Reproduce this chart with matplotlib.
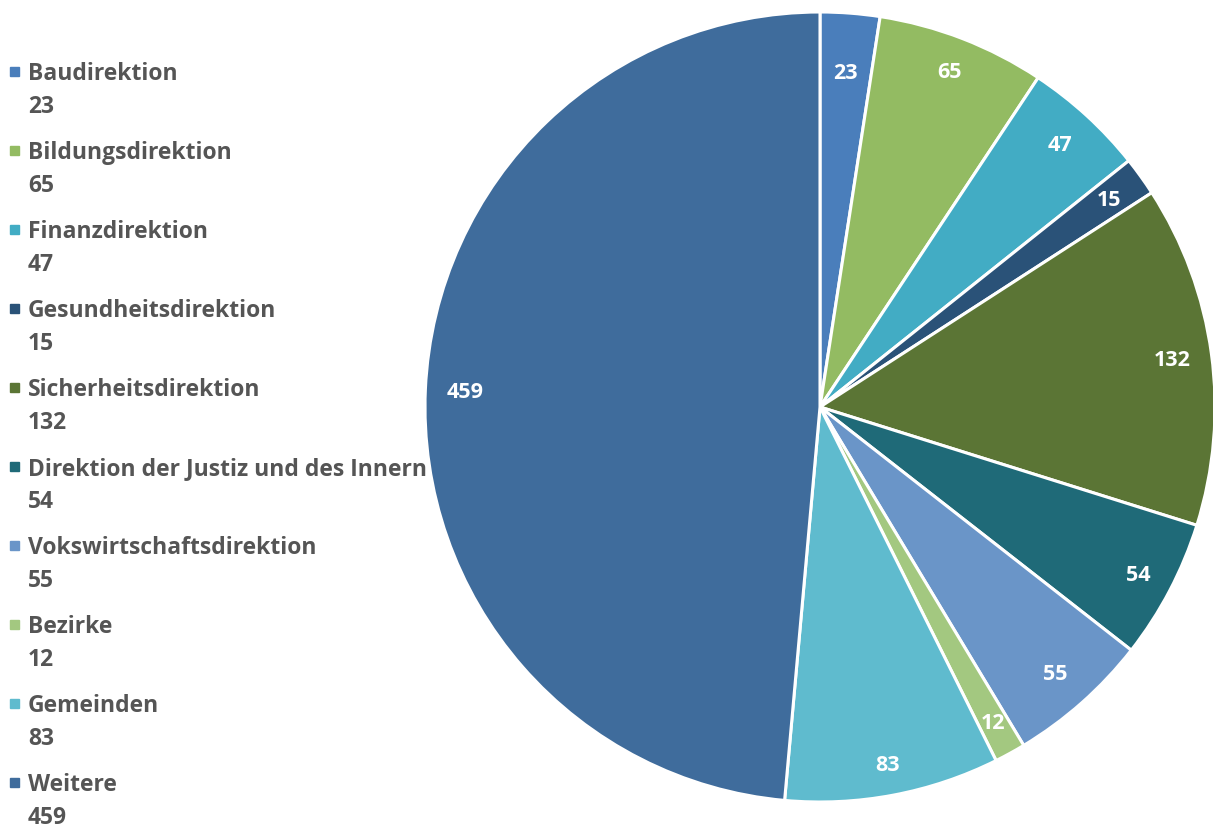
import matplotlib.pyplot as plt
import matplotlib.patches as mpatches
import numpy as np

labels = [
    "Baudirektion",
    "Bildungsdirektion",
    "Finanzdirektion",
    "Gesundheitsdirektion",
    "Sicherheitsdirektion",
    "Direktion der Justiz und des Innern",
    "Vokswirtschaftsdirektion",
    "Bezirke",
    "Gemeinden",
    "Weitere",
]
values = [23, 65, 47, 15, 132, 54, 55, 12, 83, 459]
colors = [
    "#4A7EBB", "#93BB62", "#42ACC4", "#2A5278", "#5B7535",
    "#1F6A78", "#6A95C8", "#A3C880", "#5FBBCE", "#3F6C9C",
]
label_dist = [0.85, 0.91, 0.9, 0.9, 0.9, 0.91, 0.9, 0.91, 0.92, 0.9]

plt.rcParams["font.family"] = ["Open Sans", "DejaVu Sans"]

W, H = 1213, 828
fig = plt.figure(figsize=(W / 100, H / 100), dpi=100)

# pie axes: centre (820, 408) px, radius 395 px
cx, cy, r = 820, 408, 395
ax = fig.add_axes([(cx - r) / W, (H - cy - r) / H, 2 * r / W, 2 * r / H])
wedges, _ = ax.pie(
    values,
    colors=colors,
    startangle=90,
    counterclock=False,
    wedgeprops={"linewidth": 2.2, "edgecolor": "white"},
)
for w, v, d in zip(wedges, values, label_dist):
    ang = np.deg2rad((w.theta1 + w.theta2) / 2)
    ax.text(d * np.cos(ang), d * np.sin(ang), str(v), ha="center", va="center",
            color="white", fontsize=15.5, fontweight="bold")
ax.set_xlim(-1, 1)
ax.set_ylim(-1, 1)
ax.axis("off")

# legend on the left
for i, (lab, v, c) in enumerate(zip(labels, values, colors)):
    y = 72 + 79 * i
    fig.patches.append(mpatches.Rectangle((10 / W, (H - y - 5) / H), 9 / W, 9 / H,
                                          transform=fig.transFigure, color=c))
    fig.text(28 / W, (H - y - 2) / H, lab, ha="left", va="center",
             fontsize=16.5, fontweight="bold", color="#555555")
    fig.text(28 / W, (H - y - 35) / H, str(v), ha="left", va="center",
             fontsize=16.5, fontweight="bold", color="#555555")

fig.savefig("out.png", dpi=100)
